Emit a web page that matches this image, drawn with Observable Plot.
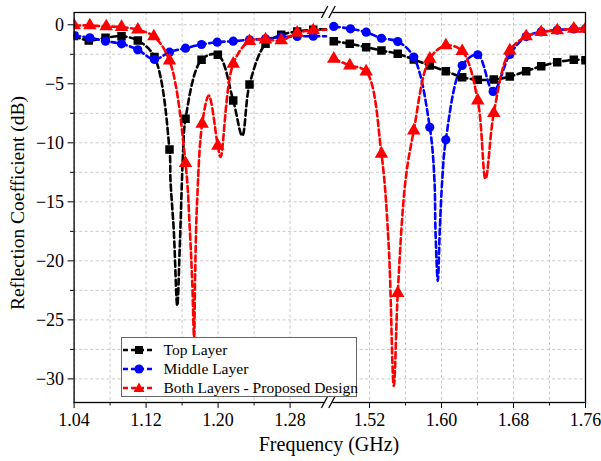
<!DOCTYPE html>
<html><head><meta charset="utf-8">
<script src="https://cdn.jsdelivr.net/npm/d3@7"></script>
<script src="https://cdn.jsdelivr.net/npm/@observablehq/plot@0.6"></script>
<style>
body{margin:0;background:#fff;}
#wrap{position:relative;width:601px;height:461px;font-family:"Liberation Serif","Times New Roman",Times,"DejaVu Serif",serif;color:#000;}
#wrap > svg{position:absolute;left:0;top:0;}
.lab{position:absolute;font-size:20px;white-space:nowrap;line-height:1;}
#legend{position:absolute;left:120.5px;top:337px;width:236px;height:60px;border:1px solid #666;background:#fff;box-sizing:border-box;}
#legend .row{position:absolute;left:0;height:19px;display:flex;align-items:center;font-size:15.5px;white-space:nowrap;line-height:1;}
#legend .row svg{position:static;display:block;margin-left:1px;margin-right:9px;flex:none;}
</style></head><body><div id="wrap"></div>
<script>
// ---- axis ticks ----
const xMajor = [1.04, 1.12, 1.20, 1.28, 1.52, 1.60, 1.68, 1.76];
const xMinor = [1.08, 1.16, 1.24, 1.56, 1.64, 1.72];
const yMajor = [0, -5, -10, -15, -20, -25, -30];
const yMinor = [-2.5, -7.5, -12.5, -17.5, -22.5, -27.5];
const breakFrom = 1.32, breakTo = 1.48;

// ---- Top Layer (black squares) ----
const topF  = [1.040, 1.0563, 1.0749, 1.0927, 1.1108, 1.1293, 1.1460, 1.1471, 1.1508, 1.1546, 1.1574, 1.1612, 1.1638, 1.1816, 1.1997, 1.2168, 1.2268, 1.2349, 1.2527, 1.2701, 1.2879, 1.3057, 1.3200,
               1.4803, 1.4981, 1.5163, 1.5333, 1.5514, 1.5692, 1.5870, 1.6048, 1.6230, 1.6403, 1.6581, 1.6759, 1.6941, 1.7108, 1.7286, 1.7470, 1.7600];
const topDb = [-0.95, -1.33, -1.10, -0.97, -1.33, -2.74, -10.57, -13.2, -17.5, -23.8, -18.8, -10.65, -7.97, -2.97, -2.54, -6.42, -9.4, -5.06, -1.61, -0.85, -0.57, -0.42, -0.38,
               -1.39, -1.61, -1.90, -2.18, -2.46, -2.94, -3.45, -3.93, -4.44, -4.66, -4.64, -4.38, -3.93, -3.51, -3.17, -2.97, -3.0];
const topMark = [1,1,1,1,1,1,1,0,0,0,0,0,1,1,1,1,0,1,1,1,1,1,0,
                 1,1,1,1,1,1,1,1,1,1,1,1,1,1,1,1,1];

// ---- Middle Layer (blue circles) ----
const midF  = [1.040, 1.0575, 1.0749, 1.0927, 1.1108, 1.1293, 1.1460, 1.1638, 1.1816, 1.1990, 1.2168, 1.2349, 1.2527, 1.2701, 1.2879, 1.3057, 1.3200,
               1.4803, 1.4989, 1.5163, 1.5333, 1.5514, 1.5692, 1.5870, 1.5922, 1.5933, 1.5959, 1.5981, 1.6008, 1.6048, 1.6230, 1.6403, 1.6574, 1.6759, 1.6941, 1.7108, 1.7286, 1.7470, 1.7600];
const midDb = [-0.91, -1.10, -1.39, -1.61, -2.12, -2.94, -2.32, -1.98, -1.67, -1.47, -1.39, -1.27, -1.19, -1.05, -0.99, -0.97, -0.97,
               -0.14, -0.34, -0.63, -1.14, -1.42, -2.74, -8.68, -13.2, -17.4, -21.7, -17.4, -13.2, -9.75, -3.45, -2.54, -5.65, -2.52, -1.0, -0.6, -0.45, -0.35, -0.33];
const midMark = [1,1,1,1,1,1,1,1,1,1,1,1,1,1,1,1,0,
                 1,1,1,1,1,1,1,0,0,0,0,0,1,1,1,1,1,1,1,1,1,1];

// ---- Both Layers - Proposed Design (red triangles) ----
const bothF  = [1.040, 1.0575, 1.0757, 1.0927, 1.1108, 1.1286, 1.1460, 1.1638, 1.1686, 1.1712, 1.1733, 1.1745, 1.1767, 1.1823, 1.1897, 1.1997, 1.2027, 1.2168, 1.2349, 1.2527, 1.2701, 1.2879, 1.3057, 1.3200,
                1.4803, 1.4981, 1.5163, 1.5333, 1.5414, 1.5470, 1.5514, 1.5600, 1.5692, 1.5870, 1.6048, 1.6230, 1.6403, 1.6489, 1.6581, 1.6759, 1.6941, 1.7108, 1.7286, 1.7470, 1.7600];
const bothDb = [-0.06, -0.06, -0.14, -0.20, -0.42, -0.99, -3.03, -11.73, -17.4, -21.7, -26.5, -21.0, -14.9, -8.39, -6.0, -10.25, -11.2, -3.31, -1.39, -1.25, -1.33, -0.68, -0.48, -0.42,
                -2.88, -3.45, -3.96, -10.93, -18.8, -30.6, -22.74, -13.2, -8.96, -2.88, -1.75, -2.24, -6.42, -13.05, -7.49, -2.18, -0.99, -0.63, -0.48, -0.34, -0.34];
const bothMark = [1,1,1,1,1,1,1,1,0,0,0,0,0,1,0,1,0,1,1,1,1,1,1,0,
                  1,1,1,1,0,0,1,0,1,1,1,1,1,0,1,1,1,1,1,1,1];

// ---- broken-axis mapping (display coordinate) ----
const gap = 0.0082;
const xb = f => f <= 1.4 ? f : f - (breakTo - breakFrom) + gap;
const labelFor = u => { const v = xMajor.find(t => Math.abs(xb(t) - u) < 1e-9); return v === undefined ? "" : v.toFixed(2); };

const build = (F, D, M) => F.map((f, i) => ({f, db: D[i], m: M[i], seg: f < 1.4 ? 0 : 1}));
const series = [
  {name: "Top Layer", rows: build(topF, topDb, topMark), color: "#000000", symbol: "square", r: 4.8},
  {name: "Middle Layer", rows: build(midF, midDb, midMark), color: "#0000ff", symbol: "circle", r: 4.6},
  {name: "Both Layers - Proposed Design", rows: build(bothF, bothDb, bothMark), color: "#ff0000", symbol: "triangle", r: 5.0}
];

const FONT = '"Liberation Serif", "Times New Roman", Times, "DejaVu Serif", serif';
const gridStyle = {stroke: "#bdbdbd", strokeOpacity: 1, strokeWidth: 0.8, strokeDasharray: "3,2.5"};
const marks = [
  Plot.gridX([...xMajor, ...xMinor].map(xb), gridStyle),
  Plot.gridY([...yMajor, ...yMinor], gridStyle),
];
for (const s of series) {
  marks.push(Plot.line(s.rows, {x: d => xb(d.f), y: "db", z: "seg", stroke: s.color, strokeWidth: 2.6, strokeDasharray: "6,3.5", curve: "catmull-rom", clip: true}));
  marks.push(Plot.dot(s.rows.filter(d => d.m), {x: d => xb(d.f), y: "db", symbol: s.symbol, r: s.r, fill: s.color, stroke: null, clip: true}));
}
marks.push(
  Plot.frame({stroke: "#000", strokeWidth: 1.3}),
  Plot.axisX(xMajor.map(xb), {tickSize: 6, tickPadding: 5, tickFormat: labelFor, fontSize: 18, fontFamily: FONT, label: null}),
  Plot.axisX(xMinor.map(xb), {tickSize: 3.5, tickFormat: () => "", label: null}),
  Plot.axisY(yMajor, {tickSize: 6, tickPadding: 4, fontSize: 18, fontFamily: FONT, label: null, tickFormat: d => d === 0 ? "0" : "\u2212" + Math.abs(d)}),
  Plot.axisY(yMinor, {tickSize: 3.5, tickFormat: () => "", label: null})
);

const plot = Plot.plot({
  width: 601, height: 461,
  marginLeft: 73.6, marginRight: 16, marginTop: 12, marginBottom: 59,
  style: {fontFamily: FONT, fontSize: "18px", background: "white", color: "#000"},
  x: {domain: [xb(1.04), xb(1.76)]},
  y: {domain: [-32, 1.04]},
  marks
});

// axis break marks, placed through the scales
const sx = plot.scale("x"), sy = plot.scale("y");
const xa = sx.apply(xb(breakFrom)), xz = sx.apply(xb(breakTo));
const yTop = sy.apply(1.04), yBot = sy.apply(-32);
const g = d3.select(plot).append("g");
for (const yy of [yTop, yBot]) {
  g.append("rect").attr("x", xa - 0.5).attr("y", yy - 2).attr("width", xz - xa).attr("height", 4).attr("fill", "white");
  for (const xx of [xa - 1, xz - 1]) {
    g.append("line").attr("x1", xx - 3.2).attr("y1", yy + 6).attr("x2", xx + 3.2).attr("y2", yy - 6)
      .attr("stroke", "#000").attr("stroke-width", 1.3);
  }
}

const wrap = document.getElementById("wrap");
wrap.appendChild(plot);

// axis titles
const xl = document.createElement("div");
xl.className = "lab"; xl.textContent = "Frequency (GHz)";
xl.style.left = "329px"; xl.style.top = "444px"; xl.style.transform = "translate(-50%,-50%)";
wrap.appendChild(xl);
const yl = document.createElement("div");
yl.className = "lab"; yl.textContent = "Reflection Coefficient (dB)"; yl.style.fontSize = "19.5px";
yl.style.left = "18px"; yl.style.top = "203px"; yl.style.transform = "translate(-50%,-50%) rotate(-90deg)";
wrap.appendChild(yl);

// legend
const leg = document.createElement("div");
leg.id = "legend";
series.forEach((s, i) => {
  const row = document.createElement("div");
  row.className = "row";
  row.style.top = (2 + i * 19.2) + "px";
  const sym = s.symbol === "square" ? '<rect x="12" y="2" width="8" height="8" fill="' + s.color + '"/>'
            : s.symbol === "circle" ? '<circle cx="16" cy="6" r="4.6" fill="' + s.color + '"/>'
            : '<path d="M16,0.5 L21.5,10 L10.5,10 Z" fill="' + s.color + '"/>';
  row.innerHTML = '<svg width="32" height="12"><line x1="0" y1="6" x2="32" y2="6" stroke="' + s.color + '" stroke-width="2.6" stroke-dasharray="5,3"/>' + sym + '</svg><span>' + s.name + '</span>';
  leg.appendChild(row);
});
wrap.appendChild(leg);
</script>
</body></html>
